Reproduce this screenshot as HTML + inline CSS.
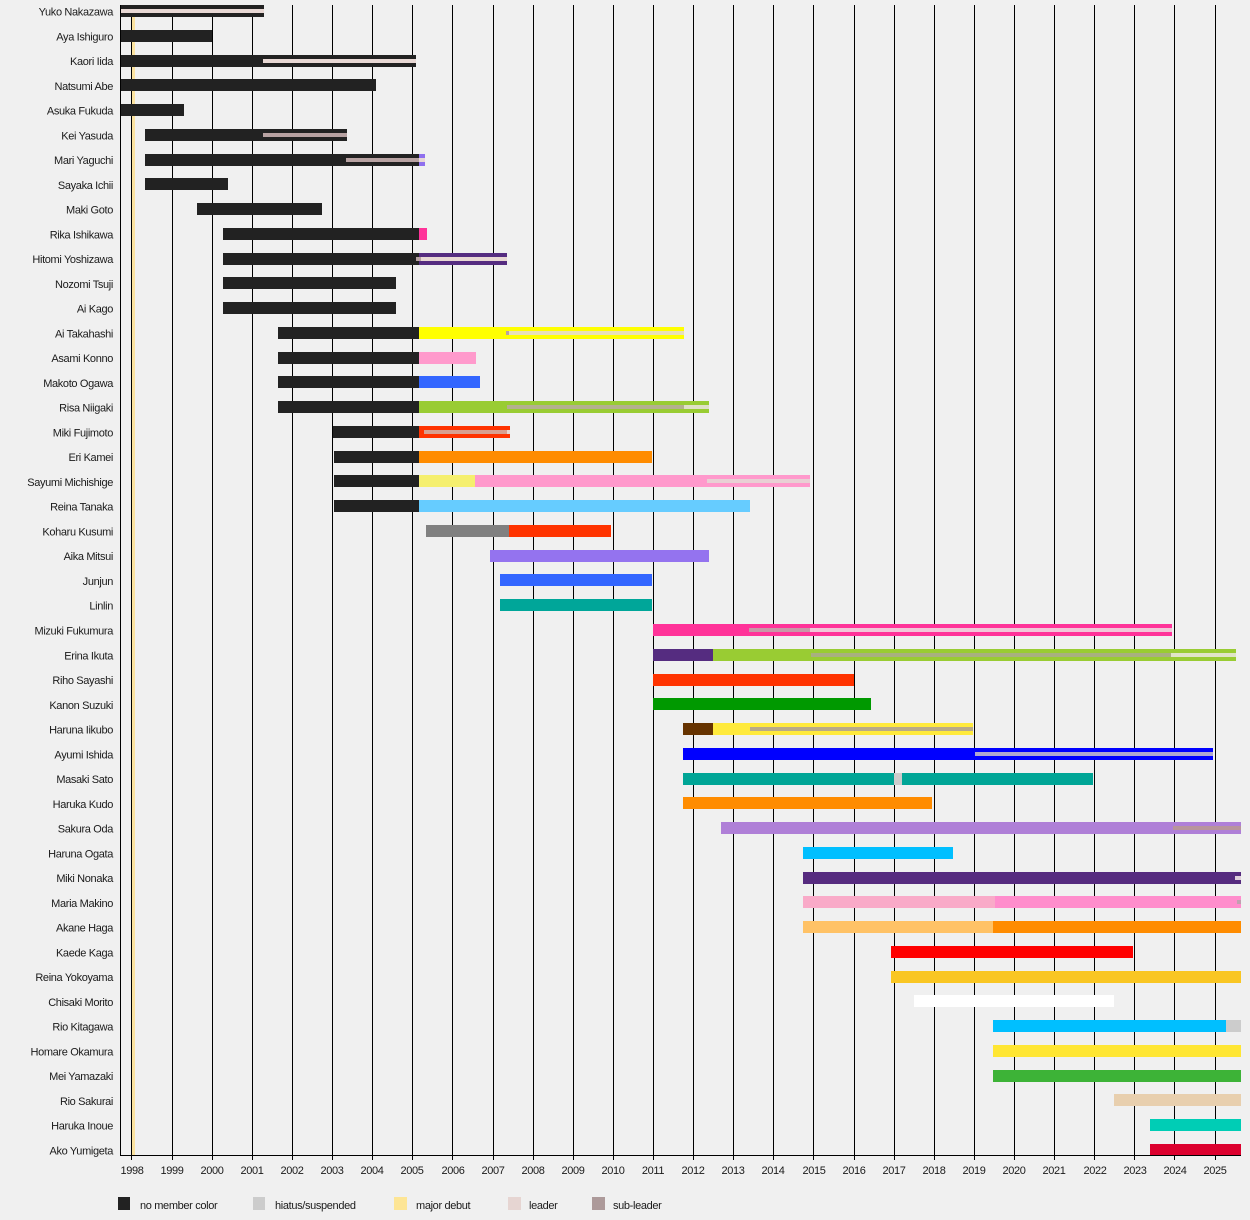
<!DOCTYPE html>
<html><head><meta charset="utf-8"><style>
html,body{margin:0;padding:0;background:#f0f0f0;}
svg{display:block;}
text{font-family:"Liberation Sans",Arial,sans-serif;font-size:11px;fill:#1a1a1a;letter-spacing:-0.35px;}
</style></head><body>
<svg width="1250" height="1220" viewBox="0 0 1250 1220" xmlns="http://www.w3.org/2000/svg">
<rect width="1250" height="1220" fill="#f0f0f0"/>
<g fill="#000">
<rect x="131" y="5" width="1" height="1150"/>
<rect x="172" y="5" width="1" height="1155"/><rect x="212" y="5" width="1" height="1155"/><rect x="252" y="5" width="1" height="1155"/><rect x="292" y="5" width="1" height="1155"/><rect x="332" y="5" width="1" height="1155"/><rect x="372" y="5" width="1" height="1155"/><rect x="412" y="5" width="1" height="1155"/><rect x="452" y="5" width="1" height="1155"/><rect x="493" y="5" width="1" height="1155"/><rect x="533" y="5" width="1" height="1155"/><rect x="573" y="5" width="1" height="1155"/><rect x="613" y="5" width="1" height="1155"/><rect x="653" y="5" width="1" height="1155"/><rect x="693" y="5" width="1" height="1155"/><rect x="733" y="5" width="1" height="1155"/><rect x="773" y="5" width="1" height="1155"/><rect x="813" y="5" width="1" height="1155"/><rect x="854" y="5" width="1" height="1155"/><rect x="894" y="5" width="1" height="1155"/><rect x="934" y="5" width="1" height="1155"/><rect x="974" y="5" width="1" height="1155"/><rect x="1014" y="5" width="1" height="1155"/><rect x="1054" y="5" width="1" height="1155"/><rect x="1094" y="5" width="1" height="1155"/><rect x="1134" y="5" width="1" height="1155"/><rect x="1174" y="5" width="1" height="1155"/><rect x="1215" y="5" width="1" height="1155"/>
<rect x="131" y="1155" width="1" height="5"/>
</g>
<rect x="132" y="5" width="3" height="1150" fill="#fbe3a0"/>

<!-- bars -->
<g>
<rect x="120" y="5" width="144" height="12" fill="#222"/>
<rect x="120" y="30" width="92" height="12" fill="#222"/>
<rect x="120" y="55" width="296" height="12" fill="#222"/>
<rect x="120" y="79" width="256" height="12" fill="#222"/>
<rect x="120" y="104" width="64" height="12" fill="#222"/>
<rect x="145" y="129" width="202" height="12" fill="#222"/>
<rect x="145" y="154" width="274" height="12" fill="#222"/><rect x="419" y="154" width="6" height="12" fill="#8f70ee"/>
<rect x="145" y="178" width="83" height="12" fill="#222"/>
<rect x="197" y="203" width="125" height="12" fill="#222"/>
<rect x="223" y="228" width="196" height="12" fill="#222"/><rect x="419" y="228" width="8" height="12" fill="#ff3399"/>
<rect x="223" y="253" width="196" height="12" fill="#222"/><rect x="419" y="253" width="88" height="12" fill="#552c80"/>
<rect x="223" y="277" width="173" height="12" fill="#222"/>
<rect x="223" y="302" width="173" height="12" fill="#222"/>
<rect x="278" y="327" width="141" height="12" fill="#222"/><rect x="419" y="327" width="265" height="12" fill="#ffff00"/>
<rect x="278" y="352" width="141" height="12" fill="#222"/><rect x="419" y="352" width="57" height="12" fill="#ff9acc"/>
<rect x="278" y="376" width="141" height="12" fill="#222"/><rect x="419" y="376" width="61" height="12" fill="#3366ff"/>
<rect x="278" y="401" width="141" height="12" fill="#222"/><rect x="419" y="401" width="290" height="12" fill="#99cc33"/>
<rect x="333" y="426" width="86" height="12" fill="#222"/><rect x="419" y="426" width="91" height="12" fill="#ff3300"/>
<rect x="334" y="451" width="85" height="12" fill="#222"/><rect x="419" y="451" width="233" height="12" fill="#ff8c00"/>
<rect x="334" y="475" width="85" height="12" fill="#222"/><rect x="419" y="475" width="56" height="12" fill="#f5ef6e"/><rect x="475" y="475" width="335" height="12" fill="#ff99cc"/>
<rect x="334" y="500" width="85" height="12" fill="#222"/><rect x="419" y="500" width="331" height="12" fill="#66ccff"/>
<rect x="426" y="525" width="83" height="12" fill="#808080"/><rect x="509" y="525" width="102" height="12" fill="#ff3300"/>
<rect x="490" y="550" width="219" height="12" fill="#9473ef"/>
<rect x="500" y="574" width="152" height="12" fill="#3366ff"/>
<rect x="500" y="599" width="152" height="12" fill="#00a699"/>
<rect x="653" y="624" width="519" height="12" fill="#ff3399"/>
<rect x="653" y="649" width="60" height="12" fill="#552c80"/><rect x="713" y="649" width="523" height="12" fill="#99cc33"/>
<rect x="653" y="674" width="201" height="12" fill="#ff3300"/>
<rect x="653" y="698" width="218" height="12" fill="#009900"/>
<rect x="683" y="723" width="30" height="12" fill="#663300"/><rect x="713" y="723" width="260" height="12" fill="#ffea3c"/>
<rect x="683" y="748" width="530" height="12" fill="#0000ff"/>
<rect x="683" y="773" width="211" height="12" fill="#00a596"/><rect x="894" y="773" width="8" height="12" fill="#cccccc"/><rect x="902" y="773" width="191" height="12" fill="#00a596"/>
<rect x="683" y="797" width="249" height="12" fill="#ff8c00"/>
<rect x="721" y="822" width="520" height="12" fill="#af7fd7"/>
<rect x="803" y="847" width="150" height="12" fill="#00bfff"/>
<rect x="803" y="872" width="438" height="12" fill="#562b7f"/>
<rect x="803" y="896" width="192" height="12" fill="#f9aac8"/><rect x="995" y="896" width="246" height="12" fill="#ff8dcc"/>
<rect x="803" y="921" width="190" height="12" fill="#ffc266"/><rect x="993" y="921" width="248" height="12" fill="#ff8c00"/>
<rect x="891" y="946" width="242" height="12" fill="#ff0000"/>
<rect x="891" y="971" width="350" height="12" fill="#f9c623"/>
<rect x="914" y="995" width="200" height="12" fill="#ffffff"/>
<rect x="993" y="1020" width="233" height="12" fill="#00bfff"/><rect x="1226" y="1020" width="15" height="12" fill="#cccccc"/>
<rect x="993" y="1045" width="248" height="12" fill="#ffe633"/>
<rect x="993" y="1070" width="248" height="12" fill="#3db337"/>
<rect x="1114" y="1094" width="127" height="12" fill="#e8cfae"/>
<rect x="1150" y="1119" width="91" height="12" fill="#00cdb5"/>
<rect x="1150" y="1144" width="91" height="12" fill="#dc002e"/>
</g>

<!-- leader / sub-leader stripes -->
<g>
<rect x="121" y="9" width="143" height="4" fill="#e8d8d4"/>
<rect x="263" y="59" width="153" height="4" fill="#e8d8d4"/>
<rect x="263" y="133" width="84" height="4" fill="#b8a2a2"/>
<rect x="346" y="158" width="73" height="4" fill="#b8a2a2"/><rect x="419" y="158" width="6" height="4" fill="#e8d8d4"/>
<rect x="416" y="257" width="5" height="4" fill="#b8a2a2"/><rect x="421" y="257" width="86" height="4" fill="#e8d8d4"/>
<rect x="506" y="331" width="3" height="4" fill="#b8a2a2"/><rect x="509" y="331" width="175" height="4" fill="#e8e0b8"/>
<rect x="507" y="405" width="177" height="4" fill="#b4b090"/><rect x="684" y="405" width="25" height="4" fill="#e0e0c8"/>
<rect x="424" y="430" width="83" height="4" fill="#d8a090"/><rect x="507" y="430" width="3" height="4" fill="#e8d8d4"/>
<rect x="707" y="479" width="103" height="4" fill="#e8d0d4"/>
<rect x="749" y="628" width="61" height="4" fill="#c898a8"/><rect x="810" y="628" width="362" height="4" fill="#f0c8d8"/>
<rect x="811" y="653" width="360" height="4" fill="#a8b080"/><rect x="1171" y="653" width="65" height="4" fill="#e0e4c8"/>
<rect x="750" y="727" width="223" height="4" fill="#b8aa88"/>
<rect x="975" y="752" width="238" height="4" fill="#b0a8d0"/>
<rect x="1173" y="826" width="68" height="4" fill="#b8949c"/>
<rect x="1235" y="876" width="6" height="4" fill="#e0d0dc"/>
<rect x="1237" y="900" width="4" height="4" fill="#c0a0b0"/>
</g>

<!-- axes -->
<rect x="120" y="5" width="1" height="1151" fill="#000"/>
<rect x="120" y="1155" width="1121" height="1" fill="#000"/>
<g fill="#000">
<rect x="172" y="1155" width="1" height="5"/><rect x="212" y="1155" width="1" height="5"/><rect x="252" y="1155" width="1" height="5"/><rect x="292" y="1155" width="1" height="5"/><rect x="332" y="1155" width="1" height="5"/><rect x="372" y="1155" width="1" height="5"/><rect x="412" y="1155" width="1" height="5"/><rect x="452" y="1155" width="1" height="5"/><rect x="493" y="1155" width="1" height="5"/><rect x="533" y="1155" width="1" height="5"/><rect x="573" y="1155" width="1" height="5"/><rect x="613" y="1155" width="1" height="5"/><rect x="653" y="1155" width="1" height="5"/><rect x="693" y="1155" width="1" height="5"/><rect x="733" y="1155" width="1" height="5"/><rect x="773" y="1155" width="1" height="5"/><rect x="813" y="1155" width="1" height="5"/><rect x="854" y="1155" width="1" height="5"/><rect x="894" y="1155" width="1" height="5"/><rect x="934" y="1155" width="1" height="5"/><rect x="974" y="1155" width="1" height="5"/><rect x="1014" y="1155" width="1" height="5"/><rect x="1054" y="1155" width="1" height="5"/><rect x="1094" y="1155" width="1" height="5"/><rect x="1134" y="1155" width="1" height="5"/><rect x="1174" y="1155" width="1" height="5"/><rect x="1215" y="1155" width="1" height="5"/>
</g>

<!-- names -->
<g text-anchor="end">
<text x="113" y="15.5">Yuko Nakazawa</text>
<text x="113" y="40.3">Aya Ishiguro</text>
<text x="113" y="65">Kaori Iida</text>
<text x="113" y="89.8">Natsumi Abe</text>
<text x="113" y="114.5">Asuka Fukuda</text>
<text x="113" y="139.3">Kei Yasuda</text>
<text x="113" y="164">Mari Yaguchi</text>
<text x="113" y="188.8">Sayaka Ichii</text>
<text x="113" y="213.6">Maki Goto</text>
<text x="113" y="238.3">Rika Ishikawa</text>
<text x="113" y="263.1">Hitomi Yoshizawa</text>
<text x="113" y="287.9">Nozomi Tsuji</text>
<text x="113" y="312.6">Ai Kago</text>
<text x="113" y="337.4">Ai Takahashi</text>
<text x="113" y="362.1">Asami Konno</text>
<text x="113" y="386.9">Makoto Ogawa</text>
<text x="113" y="411.7">Risa Niigaki</text>
<text x="113" y="436.4">Miki Fujimoto</text>
<text x="113" y="461.2">Eri Kamei</text>
<text x="113" y="485.9">Sayumi Michishige</text>
<text x="113" y="510.7">Reina Tanaka</text>
<text x="113" y="535.5">Koharu Kusumi</text>
<text x="113" y="560.2">Aika Mitsui</text>
<text x="113" y="585">Junjun</text>
<text x="113" y="609.7">Linlin</text>
<text x="113" y="634.5">Mizuki Fukumura</text>
<text x="113" y="659.3">Erina Ikuta</text>
<text x="113" y="684">Riho Sayashi</text>
<text x="113" y="708.8">Kanon Suzuki</text>
<text x="113" y="733.5">Haruna Iikubo</text>
<text x="113" y="758.3">Ayumi Ishida</text>
<text x="113" y="783.1">Masaki Sato</text>
<text x="113" y="807.8">Haruka Kudo</text>
<text x="113" y="832.6">Sakura Oda</text>
<text x="113" y="857.3">Haruna Ogata</text>
<text x="113" y="882.1">Miki Nonaka</text>
<text x="113" y="906.9">Maria Makino</text>
<text x="113" y="931.6">Akane Haga</text>
<text x="113" y="956.4">Kaede Kaga</text>
<text x="113" y="981.1">Reina Yokoyama</text>
<text x="113" y="1005.9">Chisaki Morito</text>
<text x="113" y="1030.7">Rio Kitagawa</text>
<text x="113" y="1055.4">Homare Okamura</text>
<text x="113" y="1080.2">Mei Yamazaki</text>
<text x="113" y="1104.9">Rio Sakurai</text>
<text x="113" y="1129.7">Haruka Inoue</text>
<text x="113" y="1154.5">Ako Yumigeta</text>
</g>

<!-- year labels -->
<g text-anchor="middle">
<text x="132" y="1174">1998</text><text x="172" y="1174">1999</text><text x="212" y="1174">2000</text><text x="252" y="1174">2001</text><text x="292" y="1174">2002</text><text x="332" y="1174">2003</text><text x="372" y="1174">2004</text><text x="412" y="1174">2005</text><text x="453" y="1174">2006</text><text x="493" y="1174">2007</text><text x="533" y="1174">2008</text><text x="573" y="1174">2009</text><text x="613" y="1174">2010</text><text x="653" y="1174">2011</text><text x="693" y="1174">2012</text><text x="733" y="1174">2013</text><text x="773" y="1174">2014</text><text x="814" y="1174">2015</text><text x="854" y="1174">2016</text><text x="894" y="1174">2017</text><text x="934" y="1174">2018</text><text x="974" y="1174">2019</text><text x="1014" y="1174">2020</text><text x="1054" y="1174">2021</text><text x="1095" y="1174">2022</text><text x="1135" y="1174">2023</text><text x="1175" y="1174">2024</text><text x="1215" y="1174">2025</text>
</g>

<!-- legend -->
<rect x="118" y="1197" width="12" height="13" fill="#222"/>
<text x="140" y="1209">no member color</text>
<rect x="253" y="1197" width="12" height="13" fill="#cccccc"/>
<text x="275" y="1209">hiatus/suspended</text>
<rect x="394" y="1197" width="13" height="13" fill="#fde595"/>
<text x="416" y="1209">major debut</text>
<rect x="508" y="1197" width="13" height="13" fill="#e6d5d2"/>
<text x="529" y="1209">leader</text>
<rect x="592" y="1197" width="13" height="13" fill="#ad9a9a"/>
<text x="613" y="1209">sub-leader</text>
</svg>
</body></html>
